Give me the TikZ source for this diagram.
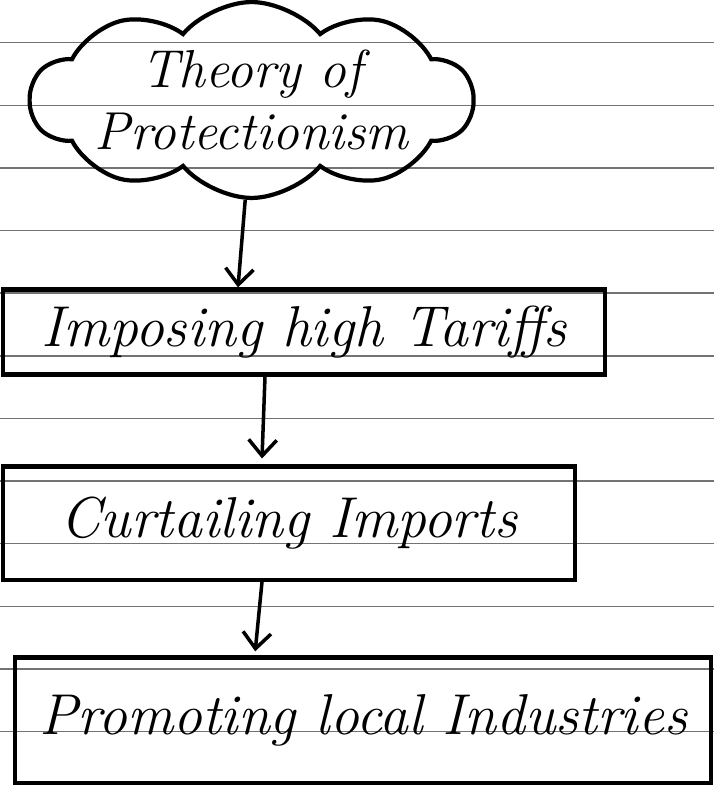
\documentclass[tikz,border=0pt]{standalone}
\usetikzlibrary{shapes.symbols,arrows.meta}
\begin{document}
\begin{tikzpicture}[auto,
    >={Straight Barb[length=4mm,width=7mm]},
    ruling/.style ={black!55, line width=1pt},
    stage/.style ={rectangle, draw, line width=3pt, inner sep=0pt, font=\fontsize{41}{45}\selectfont\itshape},
    idea/.style ={cloud, draw, line width=3pt, cloud puffs=10, cloud puff arc=100, aspect=3.2, inner xsep=0pt, inner ysep=-6mm, align=center, font=\fontsize{38}{44}\selectfont\itshape}]
   \useasboundingbox (0,0) rectangle (17.85,-19.725);
   \foreach \k in {0,...,11}
      \draw[ruling] (0,-1.07-1.565*\k) -- (17.85,-1.07-1.565*\k);
   \node[idea, minimum width=10cm, minimum height=3cm] (theory)  at (6.29,-2.5)  {Theory of\\Protectionism};
   \node[stage, minimum width=15.05cm, minimum height=2.125cm] (tariffs)  at (7.6,-8.3)  {Imposing high Tariffs};
   \node[stage, minimum width=14.3cm, minimum height=2.83cm] (imports)  at (7.225,-13.08)  {Curtailing Imports};
   \node[stage, minimum width=17.4cm, minimum height=3.13cm] (industries)  at (9.08,-18.0)  {Promoting local Industries};
   \draw[line width=2.5pt, ->] ([xshift=-0.16cm]theory.south) to   ([xshift=-1.65cm]tariffs.north);
   \draw[line width=2.5pt, ->] ([xshift=-0.975cm]tariffs.south) to   ([xshift=-0.675cm, yshift=1.5mm]imports.north);
   \draw[line width=2.5pt, ->] ([xshift=-0.675cm]imports.south) to   ([xshift=-2.7cm, yshift=1mm]industries.north);
 \end{tikzpicture}
\end{document}
